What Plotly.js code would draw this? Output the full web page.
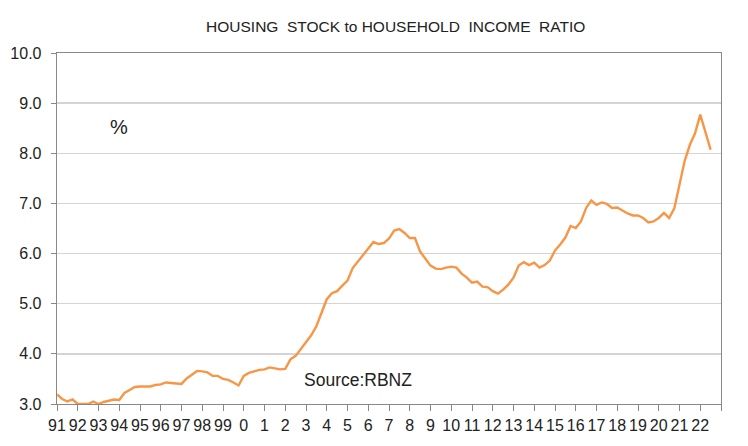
<!DOCTYPE html>
<html>
<head>
<meta charset="utf-8">
<script src="https://cdn.plot.ly/plotly-3.0.1.min.js"></script>
<style>html,body{margin:0;padding:0;background:#fff;}#chart{width:748px;height:446px;}</style>
</head>
<body>
<div id="chart"></div>
<script>
// Quarterly observations, first quarter 1991 to third quarter 2022
const startYear = 1991;
const ratio = [
  3.19, 3.10, 3.05, 3.09,  // 1991
  3.00, 3.00, 3.00, 3.05,  // 1992
  3.00, 3.04, 3.06, 3.09,  // 1993
  3.08, 3.22, 3.28, 3.34,  // 1994
  3.35, 3.35, 3.35, 3.38,  // 1995
  3.39, 3.43, 3.42, 3.41,  // 1996
  3.40, 3.51, 3.58, 3.66,  // 1997
  3.65, 3.63, 3.56, 3.56,  // 1998
  3.50, 3.48, 3.43, 3.37,  // 1999
  3.56, 3.62, 3.65, 3.68,  // 2000
  3.69, 3.73, 3.71, 3.69,  // 2001
  3.70, 3.89, 3.96, 4.10,  // 2002
  4.24, 4.37, 4.55, 4.82,  // 2003
  5.09, 5.21, 5.25, 5.36,  // 2004
  5.46, 5.71, 5.84, 5.97,  // 2005
  6.12, 6.23, 6.19, 6.21,  // 2006
  6.30, 6.46, 6.49, 6.41,  // 2007
  6.31, 6.31, 6.04, 5.91,  // 2008
  5.76, 5.70, 5.69, 5.72,  // 2009
  5.74, 5.72, 5.60, 5.52,  // 2010
  5.42, 5.44, 5.34, 5.33,  // 2011
  5.25, 5.20, 5.28, 5.38,  // 2012
  5.52, 5.76, 5.83, 5.77,  // 2013
  5.82, 5.72, 5.77, 5.86,  // 2014
  6.06, 6.18, 6.32, 6.55,  // 2015
  6.51, 6.64, 6.91, 7.06,  // 2016
  6.97, 7.02, 6.99, 6.91,  // 2017
  6.92, 6.86, 6.80, 6.76,  // 2018
  6.76, 6.71, 6.62, 6.64,  // 2019
  6.71, 6.81, 6.71, 6.90,  // 2020
  7.37, 7.85, 8.17, 8.40,  // 2021
  8.77, 8.42, 8.07         // 2022
];
const tickYears = [1991,1992,1993,1994,1995,1996,1997,1998,1999,2000,2001,2002,2003,2004,2005,2006,2007,2008,2009,2010,2011,2012,2013,2014,2015,2016,2017,2018,2019,2020,2021,2022,2023];
const tickLabels = ["91","92","93","94","95","96","97","98","99","0","1","2","3","4","5","6","7","8","9","10","11","12","13","14","15","16","17","18","19","20","21","22",""];
const yTicks = [3,4,5,6,7,8,9,10];

const quarters = ratio.map((_, i) => startYear + i / 4);

const trace = {
  x: quarters,
  y: ratio,
  type: 'scatter',
  mode: 'lines',
  line: {color: '#F79646', width: 2.4},
  hoverinfo: 'x+y'
};

const fontFam = 'Liberation Sans, Arial, sans-serif';
const layout = {
  width: 748, height: 446,
  margin: {l: 57, r: 27, t: 53, b: 42},
  paper_bgcolor: '#ffffff',
  plot_bgcolor: '#ffffff',
  showlegend: false,
  title: {
    text: 'HOUSING\u00a0 STOCK to HOUSEHOLD\u00a0 INCOME\u00a0 RATIO',
    font: {family: fontFam, size: 15.5, color: '#222'},
    x: 0.529, xanchor: 'center', y: 0.94, yanchor: 'middle'
  },
  xaxis: {
    range: [1991, 2023],
    tickmode: 'array',
    tickvals: tickYears,
    ticktext: tickLabels,
    ticks: 'outside', ticklen: 6, tickcolor: '#888', tickwidth: 1,
    showgrid: false, zeroline: false,
    showline: true, linecolor: '#888', linewidth: 1.3, mirror: true,
    tickfont: {family: fontFam, size: 16, color: '#222'},
    fixedrange: true
  },
  yaxis: {
    range: [3, 10],
    tickmode: 'array',
    tickvals: yTicks,
    tickformat: '.1f',
    ticks: 'outside', ticklen: 5, tickcolor: '#888', tickwidth: 1,
    ticklabelstandoff: 6,
    showgrid: true, gridcolor: '#d4d4d4', gridwidth: 1.5,
    zeroline: false,
    showline: true, linecolor: '#888', linewidth: 1.3, mirror: true,
    tickfont: {family: fontFam, size: 16, color: '#222'},
    fixedrange: true
  },
  annotations: [
    {text: '%', x: 1994.0, y: 8.52, xref: 'x', yref: 'y', showarrow: false,
     font: {family: fontFam, size: 20, color: '#222'}},
    {text: 'Source:RBNZ', x: 2005.5, y: 3.48, xref: 'x', yref: 'y', showarrow: false,
     font: {family: fontFam, size: 17.5, color: '#222'}}
  ]
};

Plotly.newPlot('chart', [trace], layout, {displayModeBar: false, staticPlot: true});
</script>
</body>
</html>
